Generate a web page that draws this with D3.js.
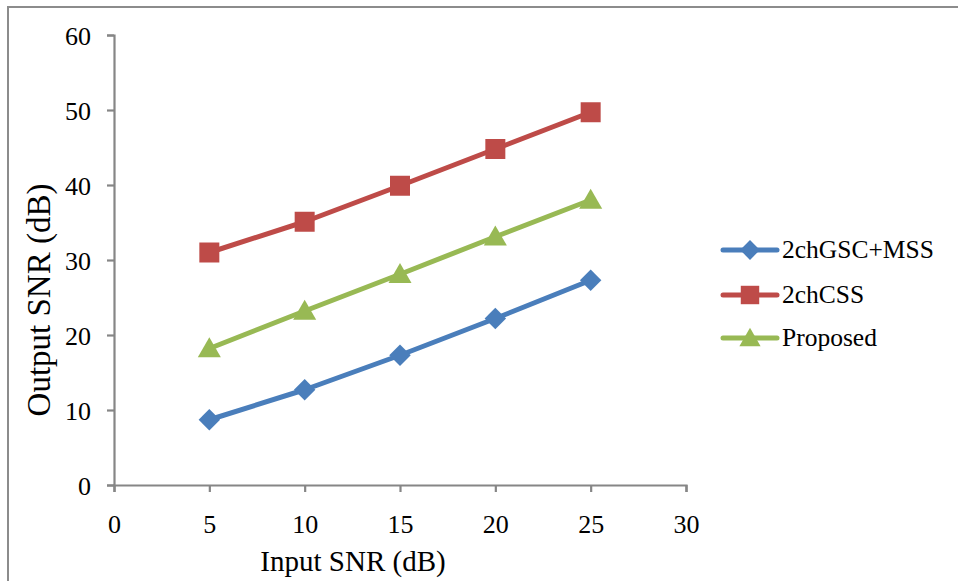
<!DOCTYPE html>
<html><head><meta charset="utf-8">
<script src="https://cdn.jsdelivr.net/npm/d3@7"></script>
<style>
html,body{margin:0;padding:0;background:#fff;}
svg{display:block;}
svg text{font-family:"Liberation Serif","Times New Roman",serif !important;}
</style></head>
<body>
<svg id="c" width="958" height="581"></svg>
<script>
const inputSNR = [5, 10, 15, 20, 25];
const gscMss = [8.7, 12.7, 17.3, 22.2, 27.3];
const chCss = [31.0, 35.1, 39.9, 44.8, 49.7];
const proposed = [18.2, 23.2, 28.1, 33.1, 38.0];
const seriesNames = ["2chGSC+MSS", "2chCSS", "Proposed"];
const xTicks = [0, 5, 10, 15, 20, 25, 30];
const yTicks = [0, 10, 20, 30, 40, 50, 60];

const colors = ["#4A7EBB", "#BE4B48", "#98B954"];
const allSeries = [gscMss, chCss, proposed];
const markerDefs = [
  { type: d3.symbolSquare, size: 230, rot: 45, dy: 0 },
  { type: d3.symbolSquare, size: 400, rot: 0, dy: 0 },
  { type: d3.symbolTriangle, size: 230, rot: 0, dy: 2 }
];

const svg = d3.select("#c");
svg.append("rect").attr("x", 8).attr("y", 7).attr("width", 980).attr("height", 600)
  .attr("fill", "none").attr("stroke", "#8c8c8c").attr("stroke-width", 2);

const x = d3.scaleLinear().domain([0, 30]).range([114, 686]);
const y = d3.scaleLinear().domain([0, 60]).range([485, 35]);

const axisColor = "#868686";
const ya = svg.append("g").attr("transform", "translate(114,0)")
  .call(d3.axisLeft(y).tickValues(yTicks).tickSize(7).tickPadding(16).tickFormat(d3.format("d")));
const xa = svg.append("g").attr("transform", "translate(0,485)")
  .call(d3.axisBottom(x).tickValues(xTicks).tickSize(7).tickPadding(23).tickFormat(d3.format("d")));
[ya, xa].forEach(g => {
  g.attr("font-family", null).attr("font-size", null);
  g.select(".domain").attr("stroke", axisColor).attr("stroke-width", 2.2);
  g.selectAll(".tick line").attr("stroke", axisColor).attr("stroke-width", 2.2);
  g.selectAll("text").attr("fill", "#000").style("font-size", "26px");
});
ya.selectAll("text").attr("dy", "0.36em");
xa.selectAll("text").attr("dy", "0.71em");

const line = d3.line().x((d, i) => x(inputSNR[i])).y(d => y(d));
allSeries.forEach((s, k) => {
  svg.append("path").datum(s).attr("d", line).attr("fill", "none")
    .attr("stroke", colors[k]).attr("stroke-width", 5).attr("stroke-linejoin", "round")
    .attr("stroke-linecap", "round");
});
allSeries.forEach((s, k) => {
  const m = markerDefs[k];
  svg.append("g").selectAll("path").data(s).join("path")
    .attr("transform", (d, i) => `translate(${x(inputSNR[i])},${y(d) + m.dy}) rotate(${m.rot})`)
    .attr("d", d3.symbol().type(m.type).size(m.size))
    .attr("fill", colors[k]);
});

svg.append("text").attr("x", 353).attr("y", 571).attr("text-anchor", "middle")
  .style("font-size", "29px").attr("fill", "#000").text("Input SNR (dB)");
svg.append("text").attr("transform", "translate(50,300) rotate(-90)").attr("text-anchor", "middle")
  .style("font-size", "33px").attr("fill", "#000").text("Output SNR (dB)");

const legY = [250, 295, 338];
seriesNames.forEach((name, k) => {
  const m = markerDefs[k];
  const g = svg.append("g");
  g.append("line").attr("x1", 723).attr("x2", 777).attr("y1", legY[k]).attr("y2", legY[k])
    .attr("stroke", colors[k]).attr("stroke-width", 5).attr("stroke-linecap", "round");
  g.append("path").attr("transform", `translate(750,${legY[k] + m.dy}) rotate(${m.rot})`)
    .attr("d", d3.symbol().type(m.type).size(m.size * 0.85)).attr("fill", colors[k]);
  g.append("text").attr("x", 782).attr("y", legY[k] + 8).style("font-size", "25.5px")
    .attr("fill", "#000").text(name);
});
</script>
</body></html>
